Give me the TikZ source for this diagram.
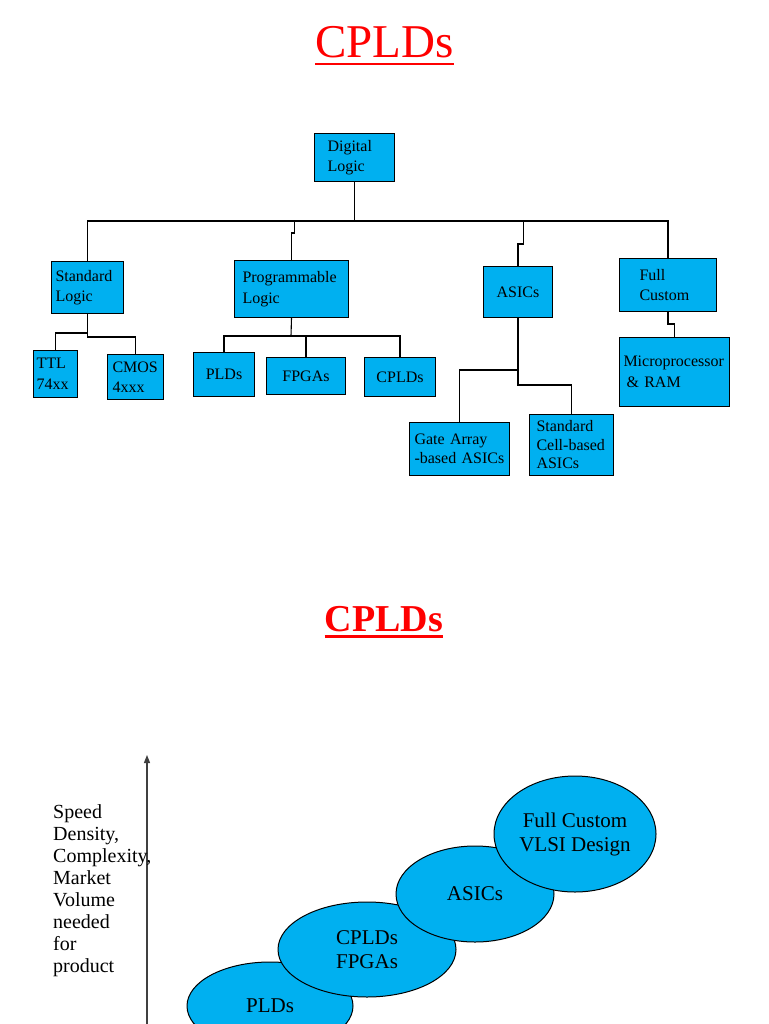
\documentclass[tikz,border=0pt]{standalone}
\usepackage{fontspec}
\setmainfont{Liberation Serif}
\usetikzlibrary{shapes.geometric,arrows.meta}
\definecolor{boxblue}{RGB}{0,176,240}
\definecolor{titlered}{RGB}{255,0,0}
\begin{document}
\begin{tikzpicture}[x=1pt,y=-1pt,
  box/.style={draw=black, fill=boxblue, line width=1pt, anchor=north west,
    inner ysep=0pt, align=left, text=black, font=\fontsize{16}{20.5}\selectfont},
  cbox/.style={box, align=center},
  tight/.style={font=\fontsize{16}{18.5}\selectfont},
  conn/.style={draw=black, line width=1.1pt},
  bubble/.style={ellipse, draw=black, line width=1pt, fill=boxblue, inner sep=0pt},
  bubtext/.style={font=\fontsize{21}{24}\selectfont, align=center, inner sep=0pt, text=black},
  ul/.style={draw=titlered, line width=2.5pt},
  axis/.style={draw=black!75, line width=1.2pt, -{Triangle[width=6pt,length=8pt]}}
]
\useasboundingbox (0,0) rectangle (768,1024);

% ---------- Title 1 ----------
\node[anchor=base, inner sep=0pt, text=titlered, font=\fontsize{47}{50}\selectfont] (t1) at (384.5,58) {CPLDs};
\draw[ul] ([yshift=-6pt]t1.base west) -- ([yshift=-6pt]t1.base east);

% ---------- Tree ----------
\node[box, text width=54pt, inner xsep=13pt, minimum height=48pt] (DL) at (314,133) {Digital\\Logic};
\node[box, text width=64pt, inner xsep=4pt, minimum height=52pt] (SL) at (51,261) {Standard\\Logic};
\node[box, text width=98pt, inner xsep=8pt, minimum height=57pt] (PL) at (234,260) {Programmable\\Logic};
\node[cbox, text width=65pt, inner xsep=2pt, minimum height=51pt] (AS) at (483,266) {ASICs};
\node[box, text width=57pt, inner xsep=20pt, minimum height=53pt] (FC) at (619,258) {Full\\Custom};
\node[box, text width=102pt, inner xsep=4pt, minimum height=69pt] (MR) at (619,337) {Microprocessor\\\hspace{3pt}\& RAM};
\node[box, text width=38pt, inner xsep=3pt, minimum height=47pt] (TTL) at (33,350) {TTL\\74xx};
\node[box, text width=46pt, inner xsep=5pt, minimum height=45pt] (CMOS) at (107,354) {CMOS\\4xxx};
\node[cbox, text width=57pt, inner xsep=2pt, minimum height=44pt] (PLDs) at (193,352) {PLDs};
\node[cbox, text width=75pt, inner xsep=2pt, minimum height=37pt] (FPGAs) at (266,357) {FPGAs};
\node[cbox, text width=67pt, inner xsep=2pt, minimum height=39pt] (CPLDs) at (364,357) {CPLDs};
\node[box, tight, text width=90pt, inner xsep=5pt, minimum height=53pt] (GA) at (409,422) {Gate Array\\-based ASICs};
\node[box, tight, text width=70pt, inner xsep=7pt, minimum height=61pt] (SC) at (529,414) {Standard\\Cell-based\\ASICs};

% connectors level 1
\coordinate (bus) at (354,221);
\draw[conn] (DL.south) -- (DL.south |- bus);
\draw[conn] (SL.north) |- (bus) -| (FC.north);
\draw[conn] (PL.north) |- ++(3,-27) -- ++(0,-12);
\draw[conn] (AS.north) |- ++(5.5,-22) -- ++(0,-23);
\draw[conn] (FC.south) -- ++(0,12) -| (MR.north);

% standard logic children
\draw[conn] (SL.south) -- ++(0,23) -| (CMOS.north);
\draw[conn] ([yshift=-19pt]SL.south) -| (TTL.north);

% programmable logic children
\coordinate (pb) at (291,336);
\draw[conn] (PL.south) -- (pb);
\draw[conn] (PLDs.north) |- (pb) -| (CPLDs.north);
\draw[conn] (FPGAs.north) -- (FPGAs.north |- pb);

% ASIC children
\draw[conn] (AS.south) -- ++(0,52) -| (GA.north);
\draw[conn] ([yshift=-52pt]AS.south) -- ([yshift=-67pt]AS.south) -| (SC.north);

% ---------- Title 2 ----------
\node[anchor=base, inner sep=0pt, text=titlered, font=\bfseries\fontsize{38}{40}\selectfont] (t2) at (384,631) {CPLDs};
\draw[ul] ([yshift=-5.3pt]t2.base west) -- ([yshift=-5.3pt]t2.base east);

% ---------- Bottom chart ----------
\coordinate (axbot) at (147,1030);
\coordinate (axtop) at (147,755);
\draw[axis] (axbot) -- (axtop);

\node[anchor=west, align=left, inner sep=0pt, font=\fontsize{20}{22}\selectfont] (ylab) at (53,891)
  {Speed\\Density,\\Complexity,\\Market\\Volume\\needed\\for\\product};

\node[bubble, minimum width=166pt, minimum height=88pt] (b1) at (270,1006) {};
\node[bubtext] (b1t) at (b1.center) {PLDs};
\node[bubble, minimum width=178pt, minimum height=95pt] (b2) at (367,949.5) {};
\node[bubtext] (b2t) at (b2.center) {CPLDs\\FPGAs};
\node[bubble, minimum width=158pt, minimum height=96pt] (b3) at (475,894) {};
\node[bubtext] (b3t) at (b3.center) {ASICs};
\node[bubble, minimum width=162pt, minimum height=116pt] (b4) at (575,834) {};
\node[bubtext] (b4t) at (b4.center) {Full Custom\\VLSI Design};
\end{tikzpicture}
\end{document}
